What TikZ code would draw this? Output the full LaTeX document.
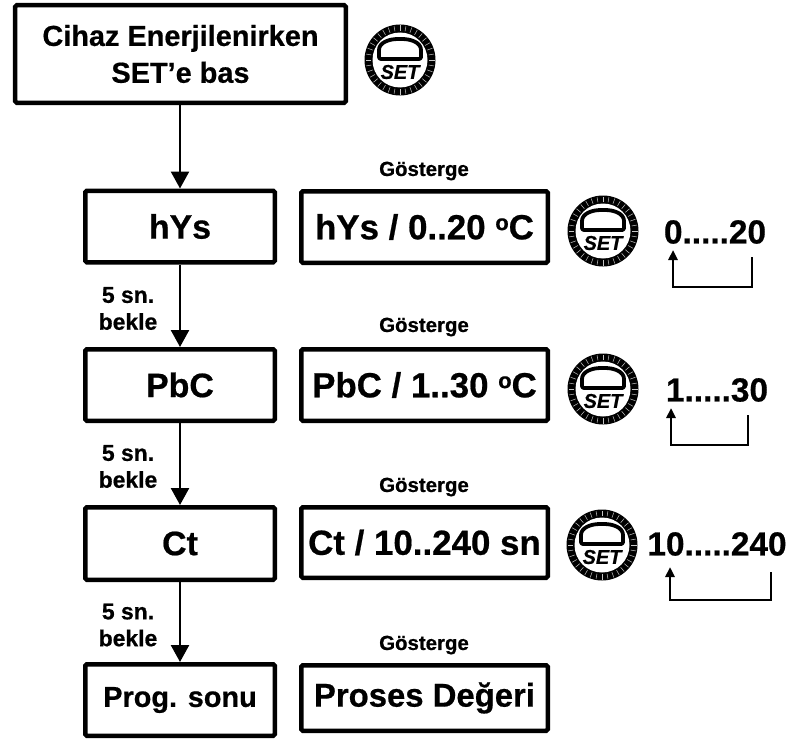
\documentclass[tikz,border=0pt]{standalone}
\usepackage{fontspec}
\setmainfont{Liberation Sans}
\newfontfamily\heavy{Liberation Sans Bold}[FakeBold=0.6]
\newfontfamily\heavyit{Liberation Sans Bold Italic}[FakeBold=0.6]
\usetikzlibrary{arrows.meta}
\tikzset{
  setbtn/.pic={
    \fill[black] (0,0) circle (35.5);
    \foreach \a in {0,10,...,350} \draw[gray!45, line width=0.5bp] (\a:29) -- (\a:34.5);
    \fill[white] (0,0) circle (27.5);
    \draw[line width=3.8bp, line join=round, rounded corners=2bp] (-21,-1) -- (-21,-8)
      .. controls (-21,-17) and (-12,-21) .. (0,-21)
      .. controls (12,-21) and (21,-17) .. (21,-8) -- (21,-1) -- cycle;
    \node[font=\heavyit\fontsize{20}{20}\selectfont, inner sep=0] at (0,12) {SET};
  }
}
\newcommand\degsym{{\fontsize{22}{22}\selectfont\raisebox{0.42em}{o}}}
\begin{document}
\begin{tikzpicture}[x=1bp,y=-1bp,
  box/.style={draw, line width=4.5bp, rounded corners=1.5bp, inner sep=0, align=center},
  big/.style={font=\heavy\fontsize{34}{38}\selectfont},
  mid/.style={font=\heavy\fontsize{29}{37}\selectfont},
  disp/.style={font=\heavy\fontsize{35}{38}\selectfont},
  lbl/.style={font=\heavy\fontsize{20.5}{22}\selectfont, inner sep=0},
  wait/.style={font=\heavy\fontsize{23}{27}\selectfont, inner sep=0, align=center},
  num/.style={font=\heavy\fontsize{33.5}{36}\selectfont, inner sep=0},
  flow/.style={line width=2.5bp, -{Triangle[width=18bp,length=17bp]}},
  loop/.style={line width=2.5bp, -{Triangle[width=9bp,length=10bp]}},
]
\useasboundingbox (0,0) rectangle (798,740);

% left column
\node[box, mid, minimum width=330.5bp, minimum height=97.5bp] (start) at (180.5,54) {Cihaz Enerjilenirken\\SET’e bas};
\node[box, big, minimum width=189.5bp, minimum height=71.5bp] (hys) at (180,226.5) {hYs};
\node[box, big, minimum width=189.5bp, minimum height=71.5bp] (pbc) at (180,385) {PbC};
\node[box, big, minimum width=189.5bp, minimum height=72.5bp] (ct) at (180,543.5) {Ct};
\node[box, mid, minimum width=189.5bp, minimum height=71.5bp] (end) at (180,700) {Prog. sonu};

% display column
\node[lbl] (g1) at (424,171) {Gösterge};
\node[lbl] (g2) at (424,327) {Gösterge};
\node[lbl] (g3) at (424,487) {Gösterge};
\node[lbl] (g4) at (424,645) {Gösterge};
\node[box, disp, minimum width=246.5bp, minimum height=71.5bp] (d1) at (424.5,227) {hYs / 0..20 \degsym C};
\node[box, disp, minimum width=246.5bp, minimum height=71.5bp] (d2) at (424.5,385) {PbC / 1..30 \degsym C};
\node[box, disp, minimum width=246.5bp, minimum height=70.5bp] (d3) at (424.5,542.5) {Ct / 10..240 sn};
\node[box, font=\heavy\fontsize{33}{36}\selectfont, minimum width=246.5bp, minimum height=65.5bp] (d4) at (424.5,698) {Proses Değeri};

% wait labels
\node[wait] (w1) at (128,308.5) {5 sn.\\bekle};
\node[wait] (w2) at (128,466.5) {5 sn.\\bekle};
\node[wait] (w3) at (128,625) {5 sn.\\bekle};

% main flow
\draw[flow] (start.south -| hys.north) -- (hys.north);
\draw[flow] (hys.south) -- (pbc.north);
\draw[flow] (pbc.south) -- (ct.north);
\draw[flow] (ct.south) -- (end.north);

% SET buttons
\pic at (400,60) {setbtn};
\pic at (603,231) {setbtn};
\pic at (603,389) {setbtn};
\pic at (602,545) {setbtn};

% ranges
\node[num] (n1) at (715,232) {0.....20};
\node[num] (n2) at (717,390) {1.....30};
\node[num] (n3) at (717,544) {10.....240};

\coordinate (a1) at (752,257); \coordinate (b1) at (752,287); \coordinate (c1) at (673,287); \coordinate (e1) at (673,250);
\coordinate (a2) at (748,415); \coordinate (b2) at (748,445); \coordinate (c2) at (671,445); \coordinate (e2) at (671,408);
\coordinate (a3) at (771,572); \coordinate (b3) at (771,600); \coordinate (c3) at (670,600); \coordinate (e3) at (670,567);
\draw[loop] (a1) -- (b1) -- (c1) -- (e1);
\draw[loop] (a2) -- (b2) -- (c2) -- (e2);
\draw[loop] (a3) -- (b3) -- (c3) -- (e3);
\end{tikzpicture}
\end{document}
